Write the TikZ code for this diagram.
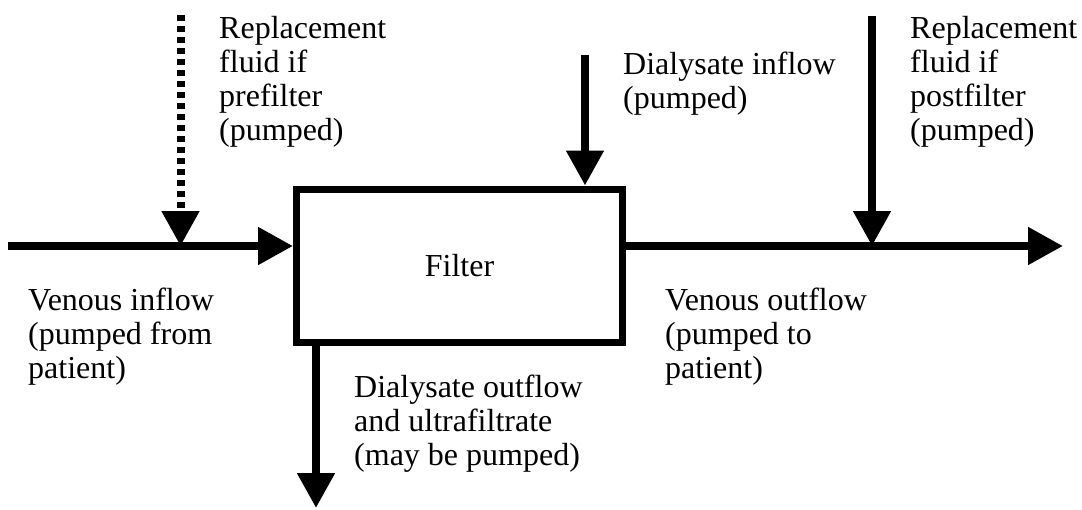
\documentclass[tikz,border=0pt]{standalone}
\usepackage{fontspec}
\setmainfont{Liberation Serif}
\usetikzlibrary{arrows.meta}

\begin{document}
\begin{tikzpicture}[x=1pt,y=-1pt,
  flow/.style={line width=8pt,line cap=butt,-{Triangle[length=35pt,width=36pt]}},
  optflow/.style={flow,dash pattern=on 6pt off 5pt},
  % multi-line labels are anchored at the baseline of their last line
  label/.style={anchor=base west,inner sep=0pt,align=left,
    font=\fontsize{32}{34}\selectfont},
  unit/.style={draw,line width=7pt,minimum width=326pt,minimum height=153pt,
    inner sep=0pt,font=\fontsize{32}{34}\selectfont}]
\useasboundingbox (0,0) rectangle (1082,509);

% filter unit
\node[unit] (filter) at (459.5,265.5) {Filter};

% free ends of the flow lines
\coordinate (vin)  at (8,246);
\coordinate (vout) at (1063,246);
\coordinate (pre)  at (180.5,15);
\coordinate (prej) at (180.5,246);
\coordinate (post) at (872,16);
\coordinate (postj) at (872,246);
\coordinate (din)  at (585,55);
\coordinate (dout) at (316,508);

% blood circuit
\draw[flow] (vin) -- (vin -| filter.west);
\draw[flow] (vout -| filter.east) -- (vout);

% replacement fluid
\draw[optflow] (pre) -- (prej);
\draw[flow] (post) -- (postj);

% dialysate
\draw[flow] (din) -- (din |- filter.north);
\draw[flow] (dout |- filter.south) -- (dout);

% labels
\node[label] (lpre)  at (219,140) {Replacement\\fluid if\\prefilter\\(pumped)};
\node[label] (lpost) at (910,140) {Replacement\\fluid if\\postfilter\\(pumped)};
\node[label] (ldin)  at (623,108) {Dialysate inflow\\(pumped)};
\node[label] (lvin)  at (28,378)  {Venous inflow\\(pumped from\\patient)};
\node[label] (lvout) at (665,378) {Venous outflow\\(pumped to\\patient)};
\node[label] (ldout) at (354,465) {Dialysate outflow\\and ultrafiltrate\\(may be pumped)};
\end{tikzpicture}
\end{document}
